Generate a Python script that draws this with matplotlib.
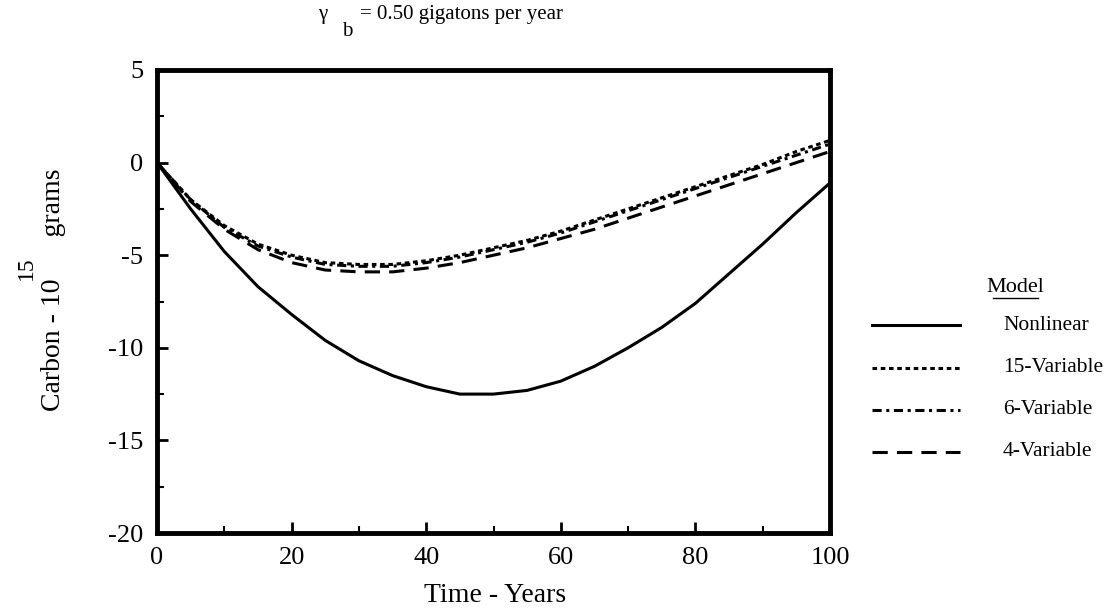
import numpy as np
import matplotlib
matplotlib.use("Agg")
import matplotlib.pyplot as plt
from matplotlib.lines import Line2D

plt.rcParams['font.family'] = ['Liberation Serif', 'DejaVu Serif']
plt.rcParams['axes.unicode_minus'] = False

# years
t = [0, 5, 10, 15, 20, 25, 30, 35, 40, 45, 50, 55, 60, 65, 70, 75, 80, 85, 90, 95, 100]

# carbon, 10^15 grams
nonlinear = [0, -2.5, -4.8, -6.7, -8.2, -9.6, -10.7, -11.5, -12.1, -12.5, -12.5,
             -12.3, -11.8, -11.0, -10.0, -8.9, -7.6, -6.0, -4.4, -2.7, -1.1]
var15 = [0, -2.0, -3.4, -4.4, -5.0, -5.4, -5.5, -5.5, -5.3, -5.0, -4.6,
         -4.2, -3.7, -3.1, -2.5, -1.9, -1.3, -0.7, -0.1, 0.6, 1.2]
var6 = [0, -2.0, -3.5, -4.5, -5.1, -5.5, -5.6, -5.6, -5.4, -5.1, -4.7,
        -4.3, -3.8, -3.2, -2.6, -2.0, -1.4, -0.8, -0.2, 0.4, 1.0]
var4 = [0, -2.1, -3.6, -4.7, -5.4, -5.8, -5.9, -5.9, -5.7, -5.4, -5.0,
        -4.6, -4.1, -3.6, -3.0, -2.4, -1.8, -1.2, -0.6, 0.0, 0.6]

names = ["Nonlinear", "15-Variable", "6-Variable", "4-Variable"]
styles = ["-", (0, (1.5, 1.2)), (0, (3, 1.5, 1, 1.5)), (0, (5, 3))]

fig = plt.figure(figsize=(11.06, 6.09), dpi=100)
ax = fig.add_axes([157/1106, 1-533/609, (830-157)/1106, (533-70)/609])

series = [nonlinear, var15, var6, var4]
for s, ls in zip(series, styles):
    ax.plot(t, s, color='k', lw=2.2, linestyle=ls)

ax.set_xlim(0, 100)
ax.set_ylim(-20, 5)
ax.set_xticks([0, 20, 40, 60, 80, 100])
ax.set_yticks([5, 0, -5, -10, -15, -20])
ax.set_xticks(np.arange(0, 101, 10), minor=True)
ax.set_yticks(np.arange(-20, 5.1, 2.5), minor=True)
ax.tick_params(direction='in', which='major', length=8, width=2, labelsize=19, pad=10)
ax.tick_params(direction='in', which='minor', length=5, width=1.5)
for sp in ax.spines.values():
    sp.set_linewidth(3.5)

fig.text(495/1106, 1-595/609, "Time - Years", ha='center', va='center', fontsize=20)

# y label with raised exponent
fig.text(54/1106, 1-290/609, "Carbon - 10      grams", rotation=90,
         ha='center', va='center', fontsize=20)
fig.text(26/1106, 1-268/609, "15", rotation=90, ha='center', va='center', fontsize=17)

# title
fig.text(318/1106, 1-15/609, "\u03b3", ha='left', va='center', fontsize=15)
fig.text(342/1106, 1-31/609, "b", ha='left', va='center', fontsize=15)
fig.text(360/1106, 1-15/609, "= 0.50 gigatons per year", ha='left', va='center', fontsize=15)

# legend drawn by hand
fig.text(1015/1106, 1-287/609, "Model", ha='center', va='center', fontsize=16)
fig.add_artist(Line2D([993/1106, 1038/1106], [1-298/609, 1-298/609], color='k', lw=1))
ys = [325, 368, 410, 452]
for name, ls, yy in zip(names, styles, ys):
    fig.add_artist(Line2D([872/1106, 960/1106], [1-yy/609, 1-yy/609],
                          color='k', lw=2.2, linestyle=ls))
    fig.text(1003/1106, 1-yy/609, name, ha='left', va='center', fontsize=15.5)

fig.savefig("out.png", dpi=100)
